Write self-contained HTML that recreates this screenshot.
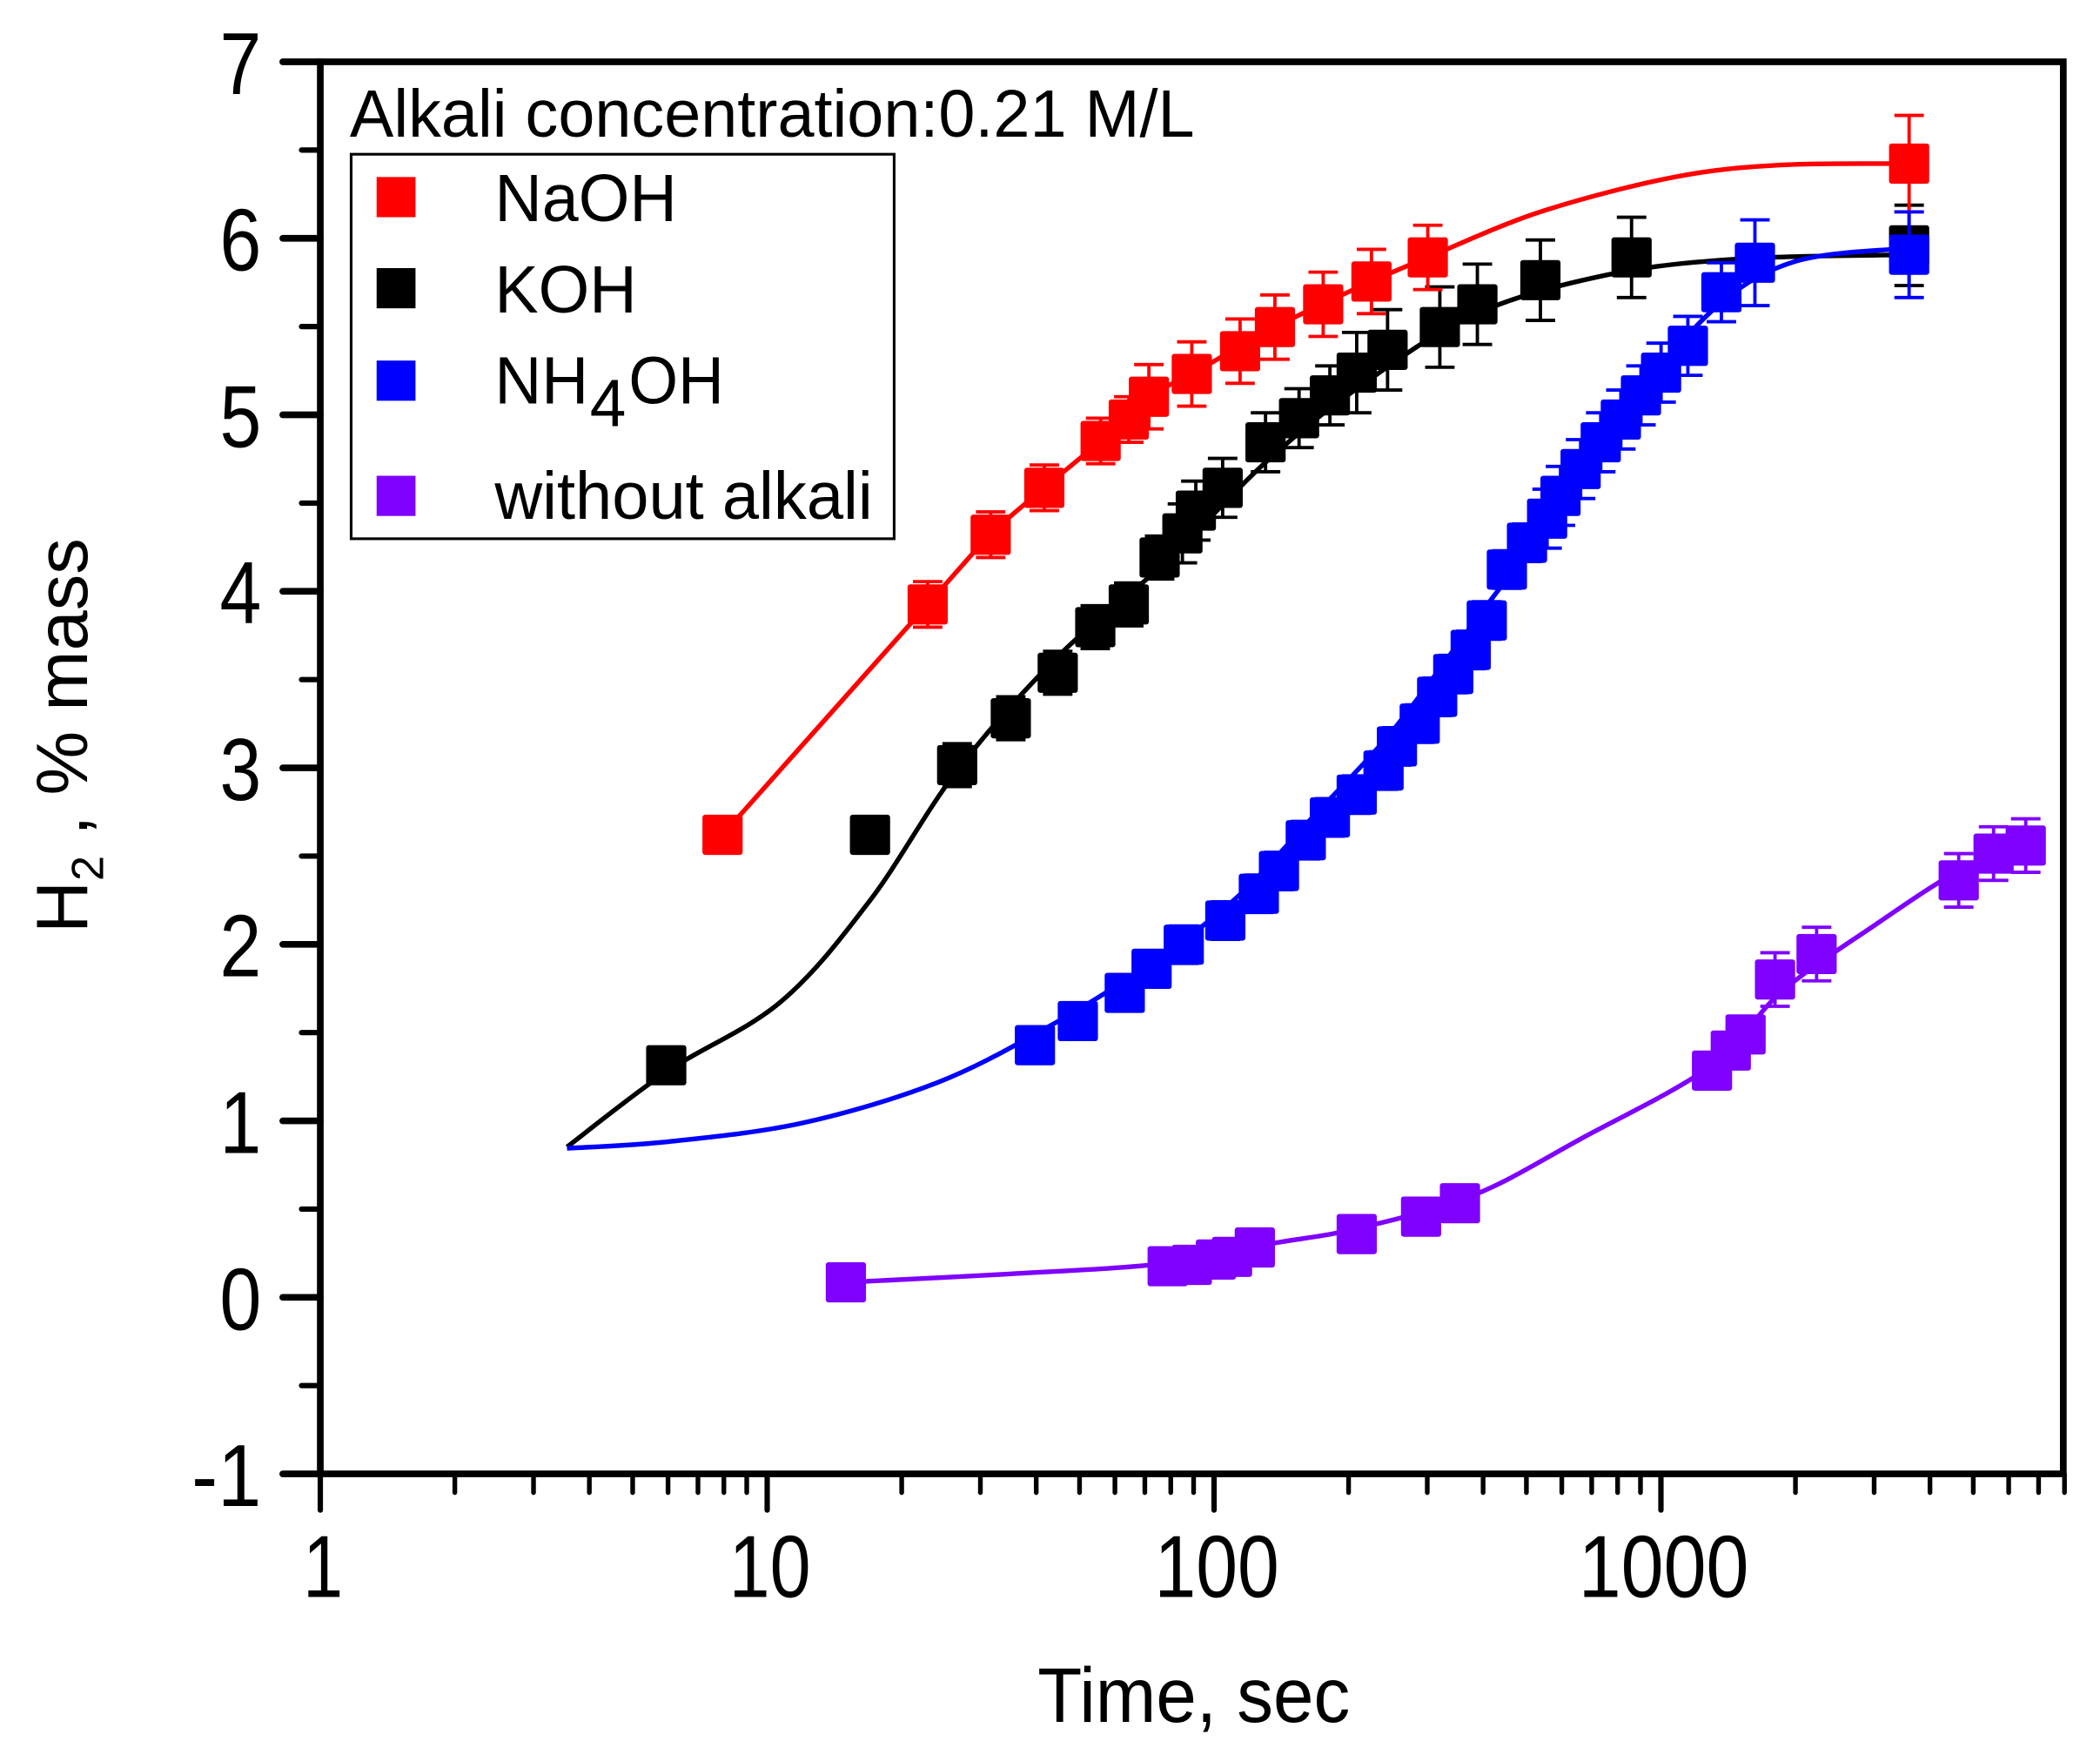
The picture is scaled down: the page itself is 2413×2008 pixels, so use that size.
<!DOCTYPE html>
<html><head><meta charset="utf-8"><style>html,body{margin:0;padding:0;background:#fff}svg{display:block}text{font-family:"Liberation Sans",Arial,sans-serif}</style></head>
<body>
<svg id="s" width="2413" height="2008" viewBox="0 0 2413 2008" xmlns="http://www.w3.org/2000/svg">
<rect width="2413" height="2008" fill="#fff"/>
<g id="g" transform="matrix(1.5406 0 0 1.539 -1.7 0.2)">
<g id="axes" stroke="#000" stroke-linecap="round" fill="none"></g>
<g id="data"></g>
<rect x="263" y="115" width="405" height="287" fill="none" stroke="#000" stroke-width="2"/>
<text x="262" y="102" font-size="50" textLength="630" lengthAdjust="spacingAndGlyphs">Alkali concentration:0.21 M/L</text>
<rect x="282" y="132" width="29" height="30" fill="#ff0000"/>
<rect x="282" y="200" width="29" height="30" fill="#000"/>
<rect x="282" y="269" width="29" height="30" fill="#0000ff"/>
<rect x="282" y="355" width="29" height="30" fill="#7f00ff"/>
<text x="370" y="165" font-size="50" textLength="136" lengthAdjust="spacingAndGlyphs">NaOH</text>
<text x="370" y="233" font-size="50" textLength="106" lengthAdjust="spacingAndGlyphs">KOH</text>
<text x="370" y="301" font-size="50" textLength="70" lengthAdjust="spacingAndGlyphs">NH</text>
<text x="441" y="318" font-size="50" textLength="27" lengthAdjust="spacingAndGlyphs">4</text>
<text x="470" y="301" font-size="50" textLength="71" lengthAdjust="spacingAndGlyphs">OH</text>
<text x="370" y="387" font-size="50" textLength="282" lengthAdjust="spacingAndGlyphs">without alkali</text>
<text x="775" y="1285" font-size="58" textLength="233" lengthAdjust="spacingAndGlyphs">Time, sec</text>
<text transform="translate(66,549) rotate(-90)" font-size="54" text-anchor="middle">H<tspan font-size="34" dy="12">2</tspan><tspan dy="-12"> , % mass</tspan></text>
</g>
</svg>
<script>
var NS="http://www.w3.org/2000/svg";
function el(p,t,a,txt){var e=document.createElementNS(NS,t);for(var k in a)e.setAttribute(k,a[k]);if(txt!==undefined)e.textContent=txt;p.appendChild(e);return e;}
var ax=document.getElementById('axes'),g=document.getElementById('g');
var L=240,R=1540,T=46,B=1100,U=131.75,D=333.3;
el(ax,'rect',{x:L,y:T,width:R-L,height:B-T,'stroke-width':5,'stroke-linecap':'butt'});
for(var v=-1;v<=7;v+=0.5){var y=T+(7-v)*U;var maj=Math.abs(v-Math.round(v))<1e-6;
 el(ax,'line',{x1:L-(maj?28:14),y1:y,x2:L,y2:y,'stroke-width':maj?5:4});
 if(maj){var s=String(v);el(g,'text',{x:196-(v<0?52:31),y:y+24,'font-size':66,textLength:v<0?52:31,lengthAdjust:'spacingAndGlyphs'},s);}}
for(var d=0;d<4;d++){for(var m=1;m<10;m++){var x=L+(d+Math.log10(m))*D;if(x>R+1)break;
 el(ax,'line',{x1:x,y1:B,x2:x,y2:B+(m==1?27:14),'stroke-width':m==1?4:3.5});
 if(m==1){var w=[30,61,93,127][d];el(g,'text',{x:x-w/2+2,y:B+92,'font-size':66,textLength:w,lengthAdjust:'spacingAndGlyphs'},String(Math.pow(10,d)));}}}
var dg=document.getElementById('data');
function curve(p,c){var d='M'+p[0][0]+','+p[0][1];
 for(var i=0;i<p.length-1;i++){var p0=p[i-1]||p[i],p1=p[i],p2=p[i+1],p3=p[i+2]||p2;
  d+=' C'+(p1[0]+(p2[0]-p0[0])/6)+','+(p1[1]+(p2[1]-p0[1])/6)+' '+(p2[0]-(p3[0]-p1[0])/6)+','+(p2[1]-(p3[1]-p1[1])/6)+' '+p2[0]+','+p2[1];}
 el(dg,'path',{d:d,fill:'none',stroke:c,'stroke-width':3.5,'stroke-linejoin':'round'});}
function pts(arr,c,err){arr.forEach(function(p,i){var e=err(i,arr.length);if(e>0){
 el(dg,'line',{x1:p[0],y1:p[1]-e,x2:p[0],y2:p[1]+e,stroke:c,'stroke-width':2.5});
 el(dg,'line',{x1:p[0]-11,y1:p[1]-e,x2:p[0]+11,y2:p[1]-e,stroke:c,'stroke-width':2.5});
 el(dg,'line',{x1:p[0]-11,y1:p[1]+e,x2:p[0]+11,y2:p[1]+e,stroke:c,'stroke-width':2.5});}
 el(dg,'rect',{x:p[0]-15,y:p[1]-15,width:30,height:30,rx:2,fill:c});});}
var red='#ff0000',blk='#000000',blu='#0000ff',vio='#7f00ff';
curve([[540,623],[693,451],[740,399],[780,364],[822,329],[858,296],[890,279],[952,244],[1024,210],[1066,192],[1150,158],[1250,132],[1330,123],[1425,122]],red);
curve([[424,856],[498,800],[583,748],[650,672],[715,575],[790,490],[870,420],[945,345],[1013,290],[1100,235],[1200,205],[1300,193],[1425,190]],blk);
curve([[424,857],[500,852],[600,838],[700,808],[780,768],[850,725],[920,673],[980,610],[1040,545],[1100,465],[1160,385],[1220,300],[1280,230],[1340,195],[1425,185]],blu);
curve([[632,957],[750,951],[870,943],[950,928],[1013,917],[1100,892],[1180,850],[1278,795],[1330,740],[1400,690],[1462,650],[1512,630]],vio);
pts([[498,795],[650,623],[715,571],[755,536],[790,502],[818,468],[843,451],[866,416],[883,398],[893,381],[913,364],[945,330],[970,312],[993,295],[1013,278],[1036,261],[1075,244],[1103,227],[1150,209],[1218,192],[1425,183]],blk,function(i,n){return i<2?0:(i<8?16:(i<14?22:30));});
pts([[540,623],[693,451],[740,399],[780,364],[822,329],[843,313],[858,296],[890,279],[926,262],[952,244],[988,227],[1024,210],[1066,192],[1425,122]],red,function(i,n){return i==0?0:(i<6?17:(i<13?24:36));});
pts([[773,780],[805,762],[840,741],[860,723],[884,705],[915,687],[940,667],[955,650],[975,627],[993,610],[1013,593],[1033,575],[1043,557],[1060,540],[1073,520],[1085,503],[1098,485],[1110,463],[1125,425],[1140,405],[1155,387],[1165,370],[1180,350],[1195,330],[1210,313],[1225,295],[1240,278],[1260,258],[1285,218],[1310,196],[1425,190]],blu,function(i,n){return i<4?0:(i<20?14:(i<29?22:32));});
pts([[632,957],[872,945],[890,944],[908,940],[920,938],[937,931],[1013,921],[1061,908],[1090,898],[1278,799],[1292,784],[1303,772],[1325,731],[1356,712],[1462,657],[1488,637],[1512,631]],vio,function(i,n){return i<9?0:(i<12?10:20);});
</script>
</body></html>
